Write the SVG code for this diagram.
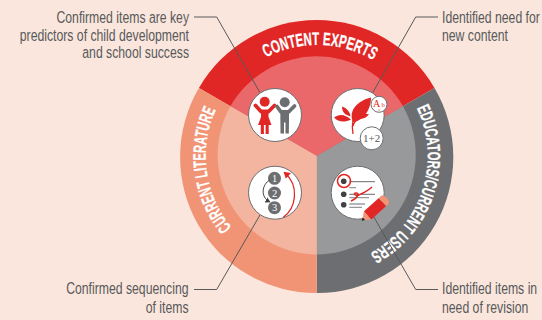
<svg xmlns="http://www.w3.org/2000/svg" width="542" height="320" viewBox="0 0 542 320">
<style>
.lab{font-family:"Liberation Sans",Arial,sans-serif;font-size:17px;fill:#58595b}
.end{text-anchor:end}
.arc{font-family:"Liberation Sans",Arial,sans-serif;font-size:18px;font-weight:700;fill:#fff;stroke:#fff;stroke-width:.25}
.node{fill:#fff;stroke:#6d6e71;stroke-width:1}
.lead{fill:none;stroke:#58595b;stroke-width:1}
.ser{font-family:"Liberation Serif","Times New Roman",serif;text-anchor:middle}
.r{fill:#e12726}
.g{fill:#6d6e71}
</style>
<defs>
<path id="pc" d="M266,57.5 A111,111 0 0 1 373,60"/>
<path id="pl" d="M231.700,227.400 A111,111 0 0 1 215.800,109.800"/>
<path id="pr" d="M416.700,108 A111,111 0 0 1 370,253.400"/>
<marker id="ah" markerWidth="6" markerHeight="6" refX="4" refY="3" orient="auto"><path d="M0,0 L5,3 L0,6 z" fill="#e12726"/></marker>
<marker id="ak" markerWidth="6" markerHeight="6" refX="4" refY="3" orient="auto"><path d="M0,0 L5,3 L0,6 z" fill="#414042"/></marker>
</defs>
<rect width="542" height="320" fill="#fae6dc"/>
<g id="wheel">
<path d="M316.700,156 L198.900,88 A136,136 0 0 1 434.500,88 Z" fill="#e12726"/>
<path d="M316.700,156 L434.500,88 A136,136 0 0 1 316.700,293 Z" fill="#6d6e71"/>
<path d="M316.700,156 L316.700,293 A136,136 0 0 1 198.900,88 Z" fill="#f19476"/>
<path d="M316.700,156 L230.400,106.200 A99.600,99.600 0 0 1 403,106.200 Z" fill="#ea686a"/>
<path d="M316.700,156 L403,106.200 A99.600,99.600 0 0 1 316.700,254.500 Z" fill="#98999b"/>
<path d="M316.700,156 L316.700,254.500 A99.600,99.600 0 0 1 230.400,106.200 Z" fill="#f4b5a0"/>
<text class="arc"><textPath href="#pc" textLength="112" lengthAdjust="spacingAndGlyphs">CONTENT EXPERTS</textPath></text>
<text class="arc"><textPath href="#pl" textLength="125" lengthAdjust="spacingAndGlyphs">CURRENT LITERATURE</textPath></text>
<text class="arc"><textPath href="#pr" textLength="168" lengthAdjust="spacingAndGlyphs">EDUCATORS/CURRENT USERS</textPath></text>
</g>
<g id="connectors">
<polyline class="lead" points="194,17 216.700,17 260,92.700"/>
<polyline class="lead" points="438,17 415.700,17 372.700,92.700"/>
<polyline class="lead" points="194,289.500 216.700,289.500 260,215"/>
<polyline class="lead" points="438,289.500 415.700,289.500 372.700,215"/>
</g>
<g id="node-experts-left">
<text class="lab end" transform="translate(189,23) scale(.72,1)">Confirmed items are key</text>
<text class="lab end" transform="translate(189,40.500) scale(.72,1)">predictors of child development</text>
<text class="lab end" transform="translate(189,58) scale(.72,1)">and school success</text>
<circle class="node" cx="275" cy="115" r="26.500"/>
<circle class="r" cx="264.700" cy="101.800" r="5"/>
<polyline points="255.500,105.500 261,111.500 268.500,111.500 274.500,105.500" fill="none" stroke="#e12726" stroke-width="3.800" stroke-linecap="round" stroke-linejoin="round"/>
<path class="r" d="M261,110 H268.500 V117 L271.500,125 H258 L261,117 Z"/>
<path class="r" d="M260.800,125 H263.900 V134 H260.800 Z M265.600,125 H268.700 V134 H265.600 Z"/>
<circle class="g" cx="284.700" cy="102.300" r="5"/>
<polyline points="277,106.500 281,112 288.500,112 294.500,106" fill="none" stroke="#6d6e71" stroke-width="3.800" stroke-linecap="round" stroke-linejoin="round"/>
<path class="g" d="M280.300,110.500 H289 V122 L288.800,133.500 H285.500 V122.500 H284 V133.500 H280.500 Z"/>
</g>
<g id="node-experts-right">
<text class="lab" transform="translate(442,23) scale(.72,1)">Identified need for</text>
<text class="lab" transform="translate(442,40.700) scale(.72,1)">new content</text>
<circle class="node" cx="357.700" cy="115" r="26.500"/>
<path class="r" d="M353,122 C348,111 357,101 371,97.500 C371,110 363,121 353,122 Z"/>
<path class="r" d="M351,119.500 C344,123 338,122 334,117.500 C339,113.500 345,114 351,119.500 Z"/>
<path class="r" d="M350.500,116.500 C345,115 342,112 342,106.500 C347,108 350,112 350.500,116.500 Z"/>
<path class="r" d="M358,118.500 C361,114 364,113 369,114.300 C366,118.500 362,119.500 358,118.500 Z"/>
<path d="M353,134 C352,128 352,125 353,120 M353,126 C354,122 356,120 359,118" fill="none" stroke="#e12726" stroke-width="1.300"/>
<circle class="node" cx="379" cy="104.300" r="8"/>
<text class="ser" x="376.500" y="106.500" font-size="10" fill="#e12726">A</text>
<text class="ser" x="383.200" y="107.300" font-size="6.500" fill="#e12726">b</text>
<text class="ser" x="379.500" y="111.300" font-size="4" fill="#e12726">c</text>
<circle class="node" cx="371.700" cy="138.300" r="11.500"/>
<text class="ser" x="371.700" y="142" font-size="11" fill="#58595b">1+2</text>
</g>
<g id="node-literature">
<text class="lab end" transform="translate(188.500,294) scale(.72,1)">Confirmed sequencing</text>
<text class="lab end" transform="translate(188.500,312.700) scale(.72,1)">of items</text>
<circle class="node" cx="275" cy="192.700" r="26.500"/>
<circle class="g" cx="274.500" cy="178.300" r="6.500"/>
<circle class="g" cx="274.500" cy="193" r="6.500"/>
<circle class="g" cx="274.500" cy="207.700" r="6.500"/>
<text class="ser" x="274.500" y="182" font-size="10.500" fill="#fff">1</text>
<text class="ser" x="274.500" y="196.700" font-size="10.500" fill="#fff">2</text>
<text class="ser" x="274.500" y="211.400" font-size="10.500" fill="#fff">3</text>
<path d="M283.300,217.300 C296,208 300,186 284.500,172.500" fill="none" stroke="#e12726" stroke-width="1.300" marker-end="url(#ah)"/>
<path d="M270,180 C262,184 260,197 269.500,201.700" fill="none" stroke="#414042" stroke-width="1" marker-end="url(#ak)"/>
</g>
<g id="node-educators">
<text class="lab" transform="translate(442,294) scale(.72,1)">Identified items in</text>
<text class="lab" transform="translate(442,312.700) scale(.72,1)">need of revision</text>
<circle class="node" cx="357.700" cy="192.700" r="26.500"/>
<circle cx="343.700" cy="181.300" r="2.800" fill="#414042"/>
<circle cx="343.700" cy="194.300" r="2.800" fill="#414042"/>
<circle cx="343.700" cy="204.700" r="2.800" fill="#414042"/>
<path d="M349.300,181.700 H375 M349.300,194.300 H375 M349.300,204 H365" fill="none" stroke="#58595b" stroke-width="0.900"/>
<path d="M349.300,187.700 H356 M349.300,197.700 H369 M349.300,207.300 H362" fill="none" stroke="#98999b" stroke-width="1.200"/>
<circle cx="344" cy="181" r="6.500" fill="none" stroke="#e12726" stroke-width="1.500"/>
<path d="M351,201 C358,198 360,193 356,193 C352,193 356,198 361,194 C365,192 369,190 372,187" fill="none" stroke="#e12726" stroke-width="1.500"/>
<g transform="translate(361.700,220.700) rotate(-42)">
<path d="M0,0 L3,-1.800 V1.800 Z" fill="#231f20"/>
<path d="M3,-1.800 L8,-5.500 V5.500 L3,1.800 Z" fill="#f19476"/>
<rect x="8" y="-5.500" width="20" height="11" fill="#e12726"/>
<path d="M28,-5.500 H31 A3,5.500 0 0 1 31,5.500 H28 Z" fill="#f19476"/>
</g>
</g>
</svg>
